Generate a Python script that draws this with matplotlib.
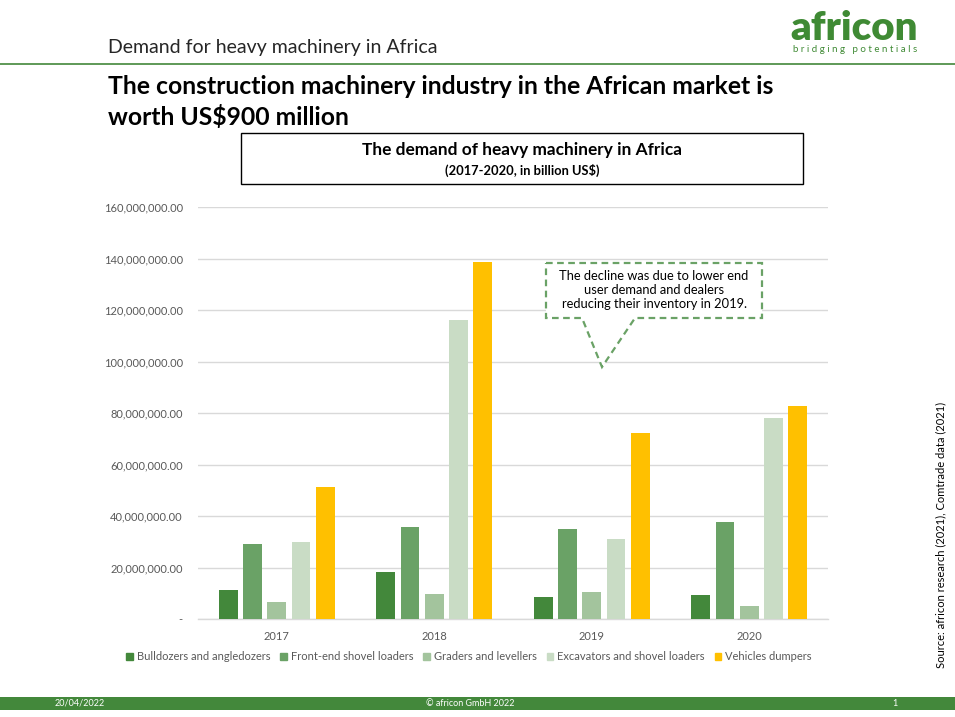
import matplotlib
matplotlib.use("Agg")
import matplotlib.pyplot as plt
import numpy as np
from matplotlib.patches import Rectangle, Polygon
from matplotlib.lines import Line2D

years = ["2017", "2018", "2019", "2020"]
series_names = ["Bulldozers and angledozers", "Front-end shovel loaders",
                "Graders and levellers", "Excavators and shovel loaders",
                "Vehicles dumpers"]
bulldozers = [11.3e6, 18.3e6, 8.6e6, 9.3e6]
front_end = [29.2e6, 35.8e6, 35.0e6, 37.7e6]
graders = [6.6e6, 9.7e6, 10.5e6, 5.1e6]
excavators = [30.0e6, 116.0e6, 31.1e6, 78.2e6]
dumpers = [51.4e6, 138.5e6, 72.4e6, 82.9e6]
y_ticks = [0, 20e6, 40e6, 60e6, 80e6, 100e6, 120e6, 140e6, 160e6]

colors = ["#43883b", "#6aa266", "#a3c49d", "#c9dcc5", "#ffc000"]
all_series = [bulldozers, front_end, graders, excavators, dumpers]

W, H = 955, 717
FONT = "Lato"
plt.rcParams['font.family'] = [FONT, 'DejaVu Sans']

fig = plt.figure(figsize=(W / 100, H / 100), dpi=100)

def fx(x):
    return x / W

def fy(y):
    return 1 - y / H

GREEN = "#43883b"

# axes
ax = fig.add_axes([fx(198), fy(619), (828 - 198) / W, (619 - 207) / H])
x = np.arange(len(years))
step = 0.154
width = 0.12
for i, (vals, col, name) in enumerate(zip(all_series, colors, series_names)):
    ax.bar(x + (i - 2) * step, vals, width=width, color=col, label=name, zorder=3)

ax.set_xlim(-0.5, len(years) - 0.5)
ax.set_ylim(0, 160e6)
ax.set_yticks(y_ticks)
ax.set_yticklabels(["-" if v == 0 else f"{v:,.2f}" for v in y_ticks])
ax.set_xticks(x)
ax.set_xticklabels(years)
ax.grid(axis="y", color="#d9d9d9", linewidth=1, zorder=0)
for s in ["top", "right", "left"]:
    ax.spines[s].set_visible(False)
ax.spines["bottom"].set_color("#d9d9d9")
ax.spines["bottom"].set_linewidth(1)
ax.tick_params(axis="both", length=0, colors="#595959", labelsize=8)
ax.tick_params(axis="y", pad=11)
ax.tick_params(axis="x", pad=9)

# legend
handles = [Rectangle((0, 0), 1, 1, color=c) for c in colors]
fig.legend(handles, series_names, loc="center", bbox_to_anchor=(fx(469), fy(657)),
           ncol=5, frameon=False, fontsize=8.0, handlelength=0.6, handleheight=0.6,
           handletextpad=0.35, columnspacing=0.9, labelcolor="#595959")

# header
fig.text(fx(108), fy(47), "Demand for heavy machinery in Africa", fontsize=14,
         color="#262626", va="center", ha="left")
fig.add_artist(Line2D([0, 1], [fy(64), fy(64)], color=GREEN, linewidth=1.2))

# logo
fig.text(fx(918), fy(28), "africon", fontsize=29, fontweight="heavy", color="#3f8a34",
         ha="right", va="center")
fig.text(fx(917), fy(50), "b r i d g i n g   p o t e n t i a l s", fontsize=7,
         color="#3f8a34", ha="right", va="center")

# title
fig.text(fx(108), fy(86), "The construction machinery industry in the African market is",
         fontsize=17.8, fontweight="bold", color="black", va="center", ha="left")
fig.text(fx(108), fy(117), "worth US$900 million",
         fontsize=17.8, fontweight="bold", color="black", va="center", ha="left")

# chart title box
fig.add_artist(Rectangle((fx(241), fy(184)), (803 - 241) / W, (184 - 133) / H,
                         fill=False, edgecolor="black", linewidth=1))
fig.text(fx(522), fy(150), "The demand of heavy machinery in Africa", fontsize=12.4,
         fontweight="bold", ha="center", va="center")
fig.text(fx(522), fy(170), "(2017-2020, in billion US$)", fontsize=9.3,
         fontweight="bold", ha="center", va="center")

# callout
callout = Polygon([(fx(546), fy(263)), (fx(762), fy(263)), (fx(762), fy(318)),
                   (fx(635), fy(318)), (fx(602), fy(367)), (fx(582), fy(318)),
                   (fx(546), fy(318))], closed=True, facecolor="white",
                  edgecolor="#6aa266", linewidth=1.6, linestyle=(0, (3, 2)),
                  zorder=5)
fig.add_artist(callout)
fig.text(fx(654), fy(290), "The decline was due to lower end\nuser demand and dealers\nreducing their inventory in 2019.",
         fontsize=9.3, ha="center", va="center", linespacing=1.2, zorder=6)

# source
fig.text(fx(941), fy(535), "Source: africon research (2021), Comtrade data (2021)",
         fontsize=8, rotation=90, ha="center", va="center")

# footer
fig.add_artist(Rectangle((0, fy(710)), 1, 13 / H, facecolor=GREEN, edgecolor="none"))
fig.text(fx(80), fy(703.5), "20/04/2022", fontsize=6.5, color="white", ha="center", va="center")
fig.text(fx(470), fy(703.5), "© africon GmbH 2022", fontsize=6.5, color="white", ha="center", va="center")
fig.text(fx(895), fy(703.5), "1", fontsize=6.5, color="white", ha="center", va="center")

fig.savefig("out.png", dpi=100)
